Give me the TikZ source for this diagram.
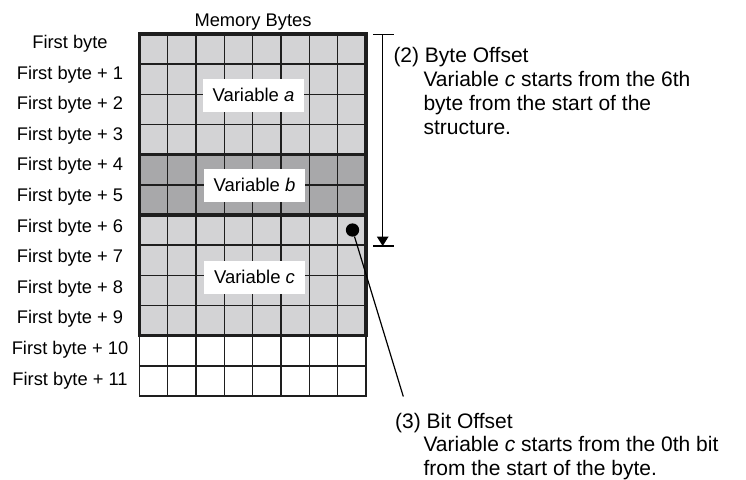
\documentclass[tikz,border=0pt]{standalone}
\usepackage{fontspec}
\setmainfont{Liberation Sans}
\usetikzlibrary{arrows.meta}
\definecolor{lightcell}{HTML}{D3D3D5}
\definecolor{darkcell}{HTML}{A8A8AA}
\definecolor{gridline}{HTML}{1E1E1E}
\begin{document}
\begin{tikzpicture}[x=1pt,y=-1pt,
  thinline/.style={draw=gridline,line width=1.6pt},
  thickline/.style={draw=gridline,line width=3.3pt},
  rowlabel/.style={anchor=base,inner sep=0pt,font=\fontsize{18.3}{20}\selectfont},
  varbox/.style={fill=white,minimum width=101pt,minimum height=33pt,inner sep=0pt,font=\fontsize{18.5}{20}\selectfont},
  note/.style={anchor=base west,inner sep=0pt,font=\fontsize{21}{24}\selectfont},
  leader/.style={draw=black,line width=1.2pt}]
\useasboundingbox (0,0) rectangle (746,479);
% grid of memory bytes
\begin{scope}[shift={(139.3,34)},x=28.34pt,y=-30.17pt]
  \fill[lightcell] (0,0) rectangle (8,4);
  \fill[darkcell] (0,4) rectangle (8,6);
  \fill[lightcell] (0,6) rectangle (8,10);
  \foreach \i in {1,...,7} \draw[thinline] (\i,0) -- (\i,12);
  \foreach \j in {1,...,11} \draw[thinline] (0,\j) -- (8,\j);
  \draw[thinline] (0,10) rectangle (8,12);
  \draw[thickline] (0,0) rectangle (8,4);
  \draw[thickline] (0,4) rectangle (8,6);
  \draw[thickline] (0,6) rectangle (8,10);
\end{scope}
\node[rowlabel] (title) at (253,26) {Memory Bytes};
\node[rowlabel] (lab0) at (70,48.5) {First byte};
\foreach \k in {1,...,11}
  \node[rowlabel] (lab\k) at (70,{48.5+30.6*\k}) {First byte + \k};
% variable labels
\node[varbox] (vara) at (253.5,95.3) {Variable \textit{a}};
\node[varbox] (varb) at (254.5,185) {Variable \textit{b}};
\node[varbox] (varc) at (254.5,277) {Variable \textit{c}};
% bit offset marker
\node[circle,fill=black,inner sep=0pt,minimum size=13.3pt] (dot) at (352.5,230) {};
\coordinate (bitend) at (403.3,396.5);
\draw[leader] (dot) -- (bitend);
% byte offset dimension
\coordinate (dimtop) at (382.7,34.3);
\coordinate (dimbot) at (382.7,246);
\coordinate (ttl) at (373,34.3);
\coordinate (ttr) at (393.5,34.3);
\coordinate (btl) at (373,246);
\coordinate (btr) at (393.5,246);
\draw[leader] (ttl) -- (ttr);
\draw[leader] (btl) -- (btr);
\draw[leader,-{Triangle[width=11.6pt,length=9.5pt]}] (dimtop) -- (dimbot);
% notes
\node[note] (n2a) at (393.3,62.7) {(2) Byte Offset};
\node[note] (n2b) at (423.3,86.5) {Variable \textit{c} starts from the 6th};
\node[note] (n2c) at (423.3,110.3) {byte from the start of the};
\node[note] (n2d) at (423.3,134) {structure.};
\node[note] (n3a) at (395,428) {(3) Bit Offset};
\node[note] (n3b) at (423.3,451.5) {Variable \textit{c} starts from the 0th bit};
\node[note] (n3c) at (423.3,475) {from the start of the byte.};
\end{tikzpicture}
\end{document}
